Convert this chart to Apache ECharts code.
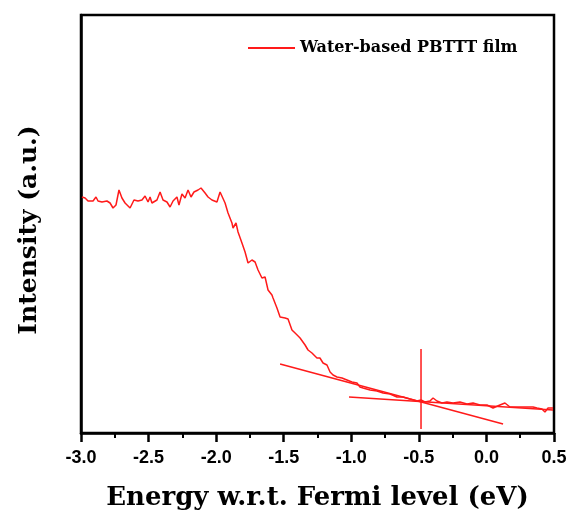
<!DOCTYPE html>
<html>
<head>
<meta charset="utf-8">
<script src="https://cdn.jsdelivr.net/npm/echarts@6/dist/echarts.min.js"></script>
<style>html,body{margin:0;padding:0;background:#fff;}#c{width:573px;height:521px;}</style>
</head>
<body>
<div id="c"></div>
<script>
var seriesName = 'Water-based PBTTT film';
var energy = [-2.993,-2.970,-2.948,-2.911,-2.889,-2.874,-2.845,-2.808,-2.785,-2.763,-2.741,-2.719,-2.697,-2.674,-2.637,-2.608,-2.578,-2.549,-2.526,-2.504,-2.489,-2.475,-2.438,-2.415,-2.393,-2.364,-2.341,-2.319,-2.290,-2.275,-2.253,-2.230,-2.208,-2.186,-2.164,-2.134,-2.112,-2.082,-2.060,-2.031,-1.994,-1.971,-1.957,-1.934,-1.912,-1.883,-1.875,-1.853,-1.838,-1.809,-1.786,-1.764,-1.735,-1.712,-1.690,-1.661,-1.638,-1.616,-1.587,-1.579,-1.550,-1.527,-1.490,-1.468,-1.439,-1.416,-1.379,-1.342,-1.320,-1.291,-1.254,-1.232,-1.209,-1.180,-1.157,-1.135,-1.106,-1.069,-1.032,-0.995,-0.958,-0.936,-0.913,-0.861,-0.810,-0.765,-0.713,-0.662,-0.617,-0.566,-0.514,-0.484,-0.455,-0.418,-0.395,-0.366,-0.329,-0.292,-0.247,-0.196,-0.144,-0.099,-0.048,0.004,0.049,0.100,0.137,0.174,0.248,0.345,0.374,0.411,0.433,0.456,0.493];
var intensity = [236,235,232,232,236,232,231,232,230,225,228,243,235,230,225,233,232,233,237,231,236,230,233,241,233,231,226,232,236,228,239,235,243,236,241,243,245,240,236,233,231,241,239,230,220,210,205,210,201,190,181,170,173,171,163,155,156,143,138,135,125,116,115,114,103,100,95,88,83,80,75,75,70,68,61,58,56,55,53,51,50,46,45,43,42,40,39,36,36,34,32,33,31,32,35,32,30,31,30,31,29,30,28,28,25,28,30,26,26,26,25,24,21,25,25];
var tangentSlopeX = [-1.527, 0.123];
var tangentSlopeY = [69, 9];
var tangentBaseX = [-1.017, 0.493];
var tangentBaseY = [36, 23];
var markerX = [-0.484, -0.484];
var markerY = [84, 4];
var xTicks = ['-3.0','-2.5','-2.0','-1.5','-1.0','-0.5','0.0','0.5'];

function pairs(xs, ys){ return xs.map(function(x,i){ return [x, ys[i]]; }); }

var chart = echarts.init(document.getElementById('c'));
var red = '#ff1a1a';
var serif = '"DejaVu Serif","Liberation Serif",serif';
chart.setOption({
  animation: false,
  grid: {left: 81, right: 19, top: 15, bottom: 88, show: true, borderColor: '#000', borderWidth: 2.5, backgroundColor: 'transparent'},
  legend: {
    data: [{name: seriesName, icon: 'rect'}], left: 243, top: 35, itemWidth: 47, itemHeight: 2, itemGap: 0,
    textStyle: {fontFamily: serif, fontWeight: 'bold', fontSize: 16, color: '#000'}
  },
  xAxis: {
    type: 'value', min: -3, max: 0.5, interval: 0.5,
    axisLine: {show: true, onZero: false, lineStyle: {color: '#000', width: 2.5}},
    axisTick: {show: true, inside: false, length: 9, lineStyle: {color: '#000', width: 2.5}},
    minorTick: {show: true, splitNumber: 2, length: 5, lineStyle: {color: '#000', width: 2}},
    splitLine: {show: false},
    axisLabel: {
      margin: 16, fontFamily: '"Liberation Sans",Arial,sans-serif', fontWeight: 'bold', fontSize: 18, color: '#000',
      formatter: function(v){ var i = Math.round((v + 3) / 0.5); return xTicks[i] !== undefined ? xTicks[i] : ''; }
    },
    name: 'Energy w.r.t. Fermi level (eV)', nameLocation: 'middle', nameGap: 52,
    nameTextStyle: {fontFamily: serif, fontWeight: 'bold', fontSize: 26, color: '#000'}
  },
  yAxis: {
    type: 'value', min: 0, max: 418,
    axisLine: {show: true, onZero: false, lineStyle: {color: '#000', width: 2.5}},
    axisTick: {show: false}, axisLabel: {show: false}, splitLine: {show: false},
    name: 'Intensity (a.u.)', nameLocation: 'middle', nameGap: 39, nameRotate: 90,
    nameTextStyle: {fontFamily: serif, fontWeight: 'bold', fontSize: 25, color: '#000', padding: [0, 12, 0, 0]}
  },
  series: [
    {name: seriesName, type: 'line', data: pairs(energy, intensity), symbol: 'none', lineStyle: {color: red, width: 1.5}, itemStyle: {color: red}},
    {name: 'tangent1', type: 'line', data: pairs(tangentSlopeX, tangentSlopeY), symbol: 'none', lineStyle: {color: red, width: 1.5}},
    {name: 'tangent2', type: 'line', data: pairs(tangentBaseX, tangentBaseY), symbol: 'none', lineStyle: {color: red, width: 1.5}},
    {name: 'marker', type: 'line', data: pairs(markerX, markerY), symbol: 'none', lineStyle: {color: red, width: 1.5}}
  ]
});
</script>
</body>
</html>
